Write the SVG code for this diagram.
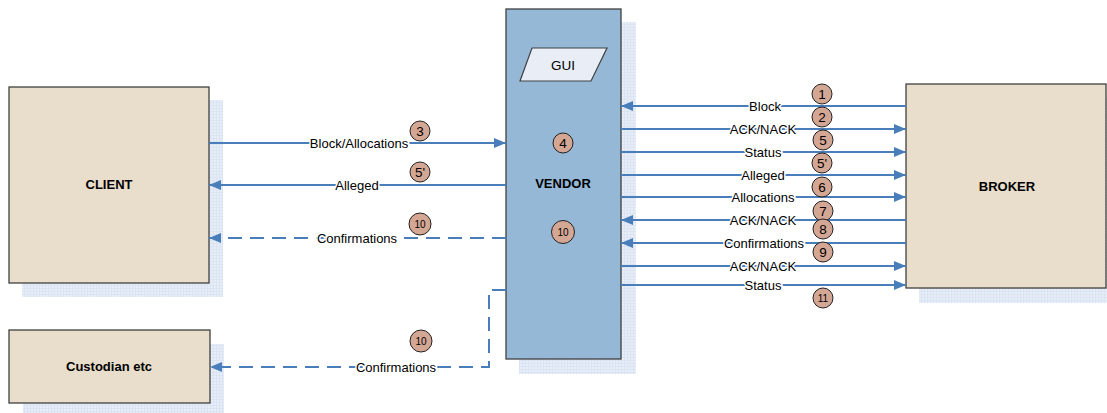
<svg xmlns="http://www.w3.org/2000/svg" width="1107" height="413" viewBox="0 0 1107 413">
<style>
.box{stroke:#404040;stroke-width:1.3}
.tan{fill:#e9ddcb}
.blue{fill:#95b8d6}
.shadow{fill:url(#grid)}
.name{font-family:"Liberation Sans",Arial,sans-serif;font-size:13px;font-weight:bold;fill:#000;text-anchor:middle}
.lbl{font-family:"Liberation Sans",Arial,sans-serif;font-size:13px;fill:#000;text-anchor:middle;stroke:#fff;stroke-width:3;paint-order:stroke}
.c{fill:#d4a694;stroke:#222;stroke-width:1}
.cn{font-family:"Liberation Sans",Arial,sans-serif;font-size:13.5px;fill:#000;text-anchor:middle}
.cs{font-size:10px}
.ln{stroke:#4a7ebb;stroke-width:2;fill:none}
.dash{stroke-dasharray:14 8}
.ar{marker-end:url(#ah)}
</style>
<defs>
<pattern id="grid" width="3" height="3" patternUnits="userSpaceOnUse">
<rect width="3" height="3" fill="#e8eef7"/>
<path d="M0 0.5H3M0.5 0V3" stroke="#dbe4f2" stroke-width="1"/>
</pattern>
<marker id="ah" markerUnits="userSpaceOnUse" markerWidth="12" markerHeight="12" viewBox="0 0 12 12" refX="12" refY="6" orient="auto">
<path d="M0 1L12 6L0 11Z" fill="#4a7ebb"/>
</marker>
</defs>

<g id="client">
<rect class="shadow" x="22" y="100" width="201" height="197"/>
<rect class="box tan" x="9" y="87" width="200" height="196"/>
<text class="name" x="109" y="189">CLIENT</text>
</g>

<g id="custodian">
<rect class="shadow" x="23" y="344" width="201" height="69"/>
<rect class="box tan" x="9" y="330" width="201" height="73"/>
<text class="name" x="109" y="371">Custodian etc</text>
</g>

<g id="vendor">
<rect class="shadow" x="519" y="22" width="117" height="352"/>
<rect class="box blue" x="506" y="9" width="115" height="350"/>
<text class="name" x="563" y="188">VENDOR</text>
</g>

<g id="gui">
<polygon points="532,48 607,48 591,81 520,81" fill="#e8edf6" stroke="#404040" stroke-width="1.2"/>
<text class="cn" x="563" y="69.5">GUI</text>
</g>

<g id="broker">
<rect class="shadow" x="919" y="98" width="188" height="205"/>
<rect class="box tan" x="906" y="84" width="200" height="204"/>
<text class="name" x="1007" y="191">BROKER</text>
</g>

<g id="connectors">
<line class="ln ar" x1="906" y1="106" x2="621" y2="106"/>
<line class="ln ar" x1="621" y1="129" x2="906" y2="129"/>
<line class="ln ar" x1="621" y1="152" x2="906" y2="152"/>
<line class="ln ar" x1="621" y1="175" x2="906" y2="175"/>
<line class="ln ar" x1="621" y1="197" x2="906" y2="197"/>
<line class="ln ar" x1="906" y1="220" x2="621" y2="220"/>
<line class="ln ar" x1="906" y1="243" x2="621" y2="243"/>
<line class="ln ar" x1="621" y1="266" x2="906" y2="266"/>
<line class="ln ar" x1="621" y1="285" x2="906" y2="285"/>
<line class="ln ar" x1="209" y1="143" x2="506" y2="143"/>
<line class="ln ar" x1="506" y1="185" x2="209" y2="185"/>
<line class="ln dash ar" x1="506" y1="238" x2="209" y2="238"/>
<polyline class="ln dash ar" points="506,290 489,290 489,367 210,367"/>
</g>

<g id="labels">
<text class="lbl" x="765" y="110.5">Block</text>
<text class="lbl" x="763" y="133.5">ACK/NACK</text>
<text class="lbl" x="763" y="156.5">Status</text>
<text class="lbl" x="763" y="179.5">Alleged</text>
<text class="lbl" x="763" y="201.5">Allocations</text>
<text class="lbl" x="763" y="224.5">ACK/NACK</text>
<text class="lbl" x="764" y="247.5">Confirmations</text>
<text class="lbl" x="763" y="270.5">ACK/NACK</text>
<text class="lbl" x="763" y="289.5">Status</text>
<text class="lbl" x="359" y="147.5">Block/Allocations</text>
<text class="lbl" x="357" y="189.5">Alleged</text>
<text class="lbl" x="357" y="242.5">Confirmations</text>
<text class="lbl" x="396" y="371.5">Confirmations</text>
</g>

<g id="steps">
<circle class="c" cx="822" cy="94" r="10"/><text class="cn" x="822" y="98.8">1</text>
<circle class="c" cx="822" cy="117" r="10"/><text class="cn" x="822" y="121.8">2</text>
<circle class="c" cx="823" cy="140" r="10"/><text class="cn" x="823" y="144.8">5</text>
<circle class="c" cx="822" cy="163" r="10"/><text class="cn" x="822" y="167.8">5'</text>
<circle class="c" cx="822" cy="187" r="10"/><text class="cn" x="822" y="191.8">6</text>
<circle class="c" cx="823" cy="211" r="10"/><text class="cn" x="823" y="215.8">7</text>
<circle class="c" cx="823" cy="229" r="10"/><text class="cn" x="823" y="233.8">8</text>
<circle class="c" cx="823" cy="252" r="10"/><text class="cn" x="823" y="256.8">9</text>
<circle class="c" cx="823" cy="298" r="10"/><text class="cn cs" x="823" y="301.6">11</text>
<circle class="c" cx="420" cy="131" r="10"/><text class="cn" x="420" y="135.8">3</text>
<circle class="c" cx="420" cy="172" r="10"/><text class="cn" x="420" y="176.8">5'</text>
<circle class="c" cx="420" cy="224" r="11"/><text class="cn cs" x="420" y="227.6">10</text>
<circle class="c" cx="421" cy="341" r="11"/><text class="cn cs" x="421" y="344.6">10</text>
<circle class="c" cx="563" cy="143" r="10"/><text class="cn" x="563" y="147.8">4</text>
<circle class="c" cx="563" cy="232" r="11.5"/><text class="cn cs" x="563" y="235.6">10</text>
</g>
</svg>
